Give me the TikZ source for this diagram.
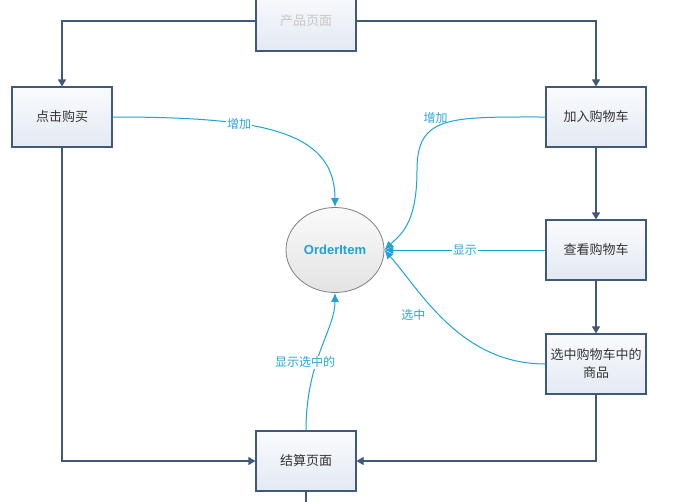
\documentclass[tikz,border=0pt]{standalone}
\usepackage{fontspec}
\newfontfamily\cjk{Noto Sans CJK SC}
\newfontfamily\lat{Liberation Sans}
\usetikzlibrary{arrows.meta,shapes.geometric,shadows}
\definecolor{boxline}{HTML}{40587A}
\definecolor{boxtop}{HTML}{FAFBFD}
\definecolor{boxbot}{HTML}{E3E9F3}
\definecolor{flow}{HTML}{1FA2D6}
\definecolor{flowtext}{HTML}{2BA6D8}
\definecolor{pagegray}{HTML}{C8C8C8}

\begin{document}
\begin{tikzpicture}
  [x=1pt,y=-1pt,
   box/.style={rectangle,draw=boxline,line width=1.1pt,top color=boxtop,bottom color=boxbot,
     minimum width=100pt,minimum height=60pt,inner sep=2pt,align=center,
     font=\cjk\fontsize{13}{18}\selectfont,text=black!80,
     drop shadow={shadow xshift=1.2pt,shadow yshift=-1.2pt,fill=black!10}},
   item/.style={ellipse,draw=black!50,line width=0.8pt,top color=black!2,bottom color=black!11,
     minimum width=98pt,minimum height=85pt,font=\lat\bfseries\fontsize{13}{15}\selectfont,text=flow},
   link/.style={draw=boxline,line width=1.1pt,-{Triangle[length=7pt,width=8pt]}},
   feed/.style={draw=flow,line width=1pt,-{Latex[length=9pt,width=8pt]}},
   tag/.style={fill=white,inner sep=1pt,text=flowtext,font=\cjk\fontsize{12}{14}\selectfont}]
  \useasboundingbox (0,0) rectangle (688,501);

  \node[box,text=pagegray] (n0) at (306,21)  {产品页面};
  \node[box] (n1) at (62,117)                {点击购买};
  \node[box] (n2) at (596,117)               {加入购物车};
  \node[box] (n3) at (596,250)               {查看购物车};
  \node[box] (n4) at (596,364)               {选中购物车中的\\商品};
  \node[box] (n5) at (306,461)               {结算页面};
  \node[item] (n6) at (335,250)              {OrderItem};
  \coordinate (n7) at (306,515);

  % page flow
  \draw[link] (n0.west) -| (n1.north);
  \draw[link] (n0.east) -| (n2.north);
  \foreach \from/\to in {n2/n3, n3/n4}
    \draw[link] (\from) -- (\to);
  \draw[link] (n1.south) |- (n5.west);
  \draw[link] (n4.south) |- (n5.east);
  \draw[draw=boxline,line width=1.1pt] (n5.south) -- (n7);

  % data flow to OrderItem
  \draw[feed] (n1.east) .. controls (260,117) and (335,130) .. (n6.north)
    node[tag,pos=0.345] {增加};
  \draw[feed] (n2.west) .. controls (450,117) and (417,115) .. (417,170)
    node[tag,fill=none,pos=0.55,above=0pt,xshift=-4pt] {增加}
    .. controls (417,225) and (400,235) .. (n6.east);
  \draw[feed] (n3.west) -- (n6.east) node[tag,pos=0.5] {显示};
  \draw[feed] (n4.west) .. controls (460,364) and (420,290) .. (n6.east)
    node[tag,fill=none,pos=0.55,left=12pt] {选中};
  \draw[feed] (n5.north) .. controls (306,360) and (335,330) .. (n6.south)
    node[tag,pos=0.4,xshift=-11pt] {显示选中的};
\end{tikzpicture}
\end{document}
